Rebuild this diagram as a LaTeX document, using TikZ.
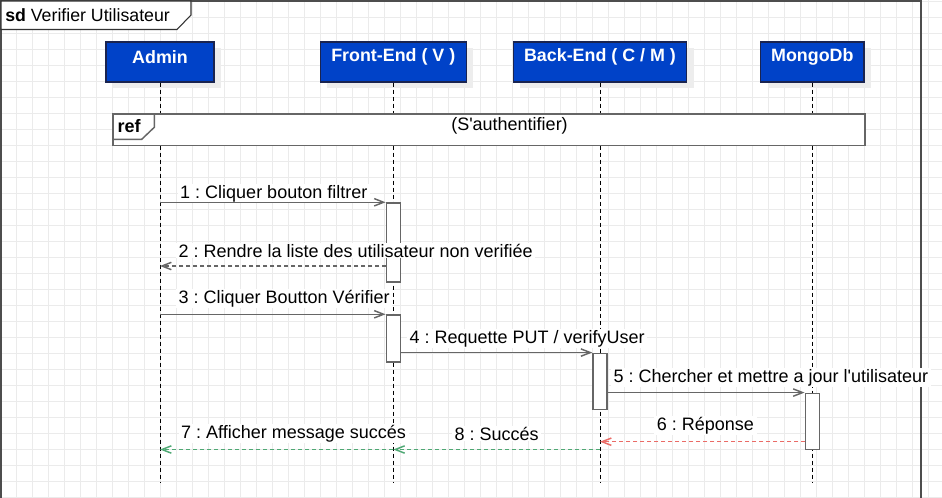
\documentclass[tikz,border=0pt]{standalone}
\usepackage{fontspec}
\setmainfont{Liberation Sans}
\usetikzlibrary{arrows.meta}
\frenchspacing
\definecolor{partblue}{HTML}{0042C8}
\definecolor{partedge}{HTML}{1A2450}
\definecolor{gridc}{HTML}{EBEBEB}
\definecolor{msggray}{HTML}{666666}
\definecolor{framegray}{HTML}{4D4D4D}
\definecolor{redmsg}{HTML}{EA6B66}
\definecolor{greenmsg}{HTML}{4FA874}
\tikzset{
  part/.style={rectangle, draw=partedge, line width=0.9pt, fill=partblue, minimum height=30pt, inner sep=0pt},
  partshadow/.style={rectangle, fill=black!7, minimum height=30pt, inner sep=0pt},
  partlabel/.style={text=white, font=\fontsize{13.4}{15}\selectfont\bfseries, inner sep=0pt},
  lifeline/.style={draw=black, line width=0.75pt, dash pattern=on 3pt off 2.25pt},
  actbar/.style={rectangle, draw=msggray, line width=1.1pt, fill=white, minimum width=10.5pt, inner sep=0pt},
  msgarrow/.style={draw=msggray, line width=1.1pt, -{Straight Barb[length=7pt,width=5.5pt]}},
  retarrow/.style={msgarrow, dash pattern=on 3pt off 2.25pt},
  msglabel/.style={anchor=west, fill=white, inner xsep=2pt, inner ysep=0.5pt, text=black}
}
\begin{document}
\begin{tikzpicture}[x=0.75pt,y=-0.75pt, font=\fontsize{13.5}{15}\selectfont]
\useasboundingbox (0,0) rectangle (942,497);
\clip (0,0) rectangle (942,497);
\fill[white] (0,0) rectangle (942,497);
% grid
\foreach \i in {0,...,59} \draw[gridc, line width=1pt] (0.7+16*\i,0) -- (0.7+16*\i,497);
\foreach \j in {0,...,31} \draw[gridc, line width=1pt] (0,1.7+16*\j) -- (942,1.7+16*\j);
% frame
\draw[framegray, line width=1.2pt] (1,520) -- (1,1) -- (921,1) -- (921,520);
\draw[fill=white, draw=black!80, line width=0.8pt] (1,1) -- (191,1) -- (191,15) -- (177,29.5) -- (1,29.5) -- cycle;
\node[anchor=west, inner sep=0pt, font=\fontsize{13.3}{15}\selectfont] (title) at (5,15.5) {\textbf{sd} Verifier Utilisateur};
% participants shadows
\node[partshadow, minimum width=81pt] at (167,68) {};
\node[partshadow, minimum width=109.5pt] at (400.3,68) {};
\node[partshadow, minimum width=130pt] at (607,68) {};
\node[partshadow, minimum width=77.5pt] at (819.3,68) {};
% participants
\node[part, minimum width=81pt] (admin) at (160,62) {};
\node[part, minimum width=109.5pt] (front) at (393.3,62) {};
\node[part, minimum width=130pt] (back) at (600,62) {};
\node[part, minimum width=77.5pt] (mongo) at (812.3,62) {};
\node[partlabel] (adminlbl) at ([yshift=3.8pt]admin.center) {Admin};
\node[partlabel] (frontlbl) at ([yshift=3.8pt]front.center) {Front-End ( V )};
\node[partlabel] (backlbl) at ([yshift=3.8pt]back.center) {Back-End ( C / M )};
\node[partlabel] (mongolbl) at ([yshift=3.8pt]mongo.center) {MongoDb};
% lifeline ends
\coordinate (adminEnd) at (160,482);
\coordinate (frontEnd) at (393.3,482);
\coordinate (backEnd) at (600,482);
\coordinate (mongoEnd) at (812.3,482);
\draw[lifeline] (admin.south) -- (adminEnd);
\draw[lifeline] (front.south) -- (frontEnd);
\draw[lifeline] (back.south) -- (backEnd);
\draw[lifeline] (mongo.south) -- (mongoEnd);
% ref frame
\draw[fill=white, draw=msggray, line width=1.1pt] (113,114) rectangle (865,145.5);
\draw[draw=msggray, line width=1.1pt] (113,114) -- (154.3,114) -- (154.3,127.3) -- (141.7,139.3) -- (113,139.3);
\node[anchor=west, inner sep=0pt] (reflbl) at (117.3,126) {\textbf{ref}};
\node[inner sep=0pt] (refname) at (509.5,126) {(S\textquotesingle authentifier)};
% activation bars
\node[actbar, minimum height=59.25pt] (fe1) at (393.3,242.5) {};
\node[actbar, minimum height=35.25pt] (fe2) at (393.3,338.5) {};
\node[actbar, minimum height=42pt] (be1) at (600,381.3) {};
\node[actbar, minimum height=42pt] (mg1) at (812.3,421.3) {};
% labels
\node[msglabel] (l1) at (177.3,193.5) {1 : Cliquer bouton filtrer};
\node[msglabel] (l2) at (175.6,250.5) {2 : Rendre la liste des utilisateur non verifiée};
\node[msglabel] (l3) at (175.6,298.5) {3 : Cliquer Boutton Vérifier};
\node[msglabel] (l4) at (406.6,338.5) {4 : Requette PUT / verifyUser};
\node[msglabel] (l5) at (610.6,377.5) {5 : Chercher et mettre a jour l\textquotesingle utilisateur};
\node[msglabel] (l6) at (654,425.5) {6 : Réponse};
\node[msglabel] (l7) at (178.3,433.5) {7 : Afficher message succés};
\node[msglabel] (l8) at (451.6,433.5) {8 : Succés};
% messages
\coordinate (m2s) at (386.3,266);
\coordinate (m6s) at (805.3,441.7);
\coordinate (m7s) at (393.3,449.5);
\coordinate (m8s) at (600,449.5);
\draw[msgarrow] (admin.south |- fe1.north west) -- (fe1.north west);
\draw[retarrow] (m2s) -- (m2s -| admin.south);
\draw[msgarrow] (admin.south |- fe2.north west) -- (fe2.north west);
\draw[msgarrow] (fe2.east |- be1.north west) -- (be1.north west);
\draw[msgarrow] (be1.east |- mg1.north west) -- (mg1.north west);
\draw[retarrow, draw=redmsg] (m6s) -- (m6s -| back.south);
\draw[retarrow, draw=greenmsg] (m8s) -- (m7s);
\draw[retarrow, draw=greenmsg] (m7s) -- (m7s -| admin.south);
\end{tikzpicture}
\end{document}
